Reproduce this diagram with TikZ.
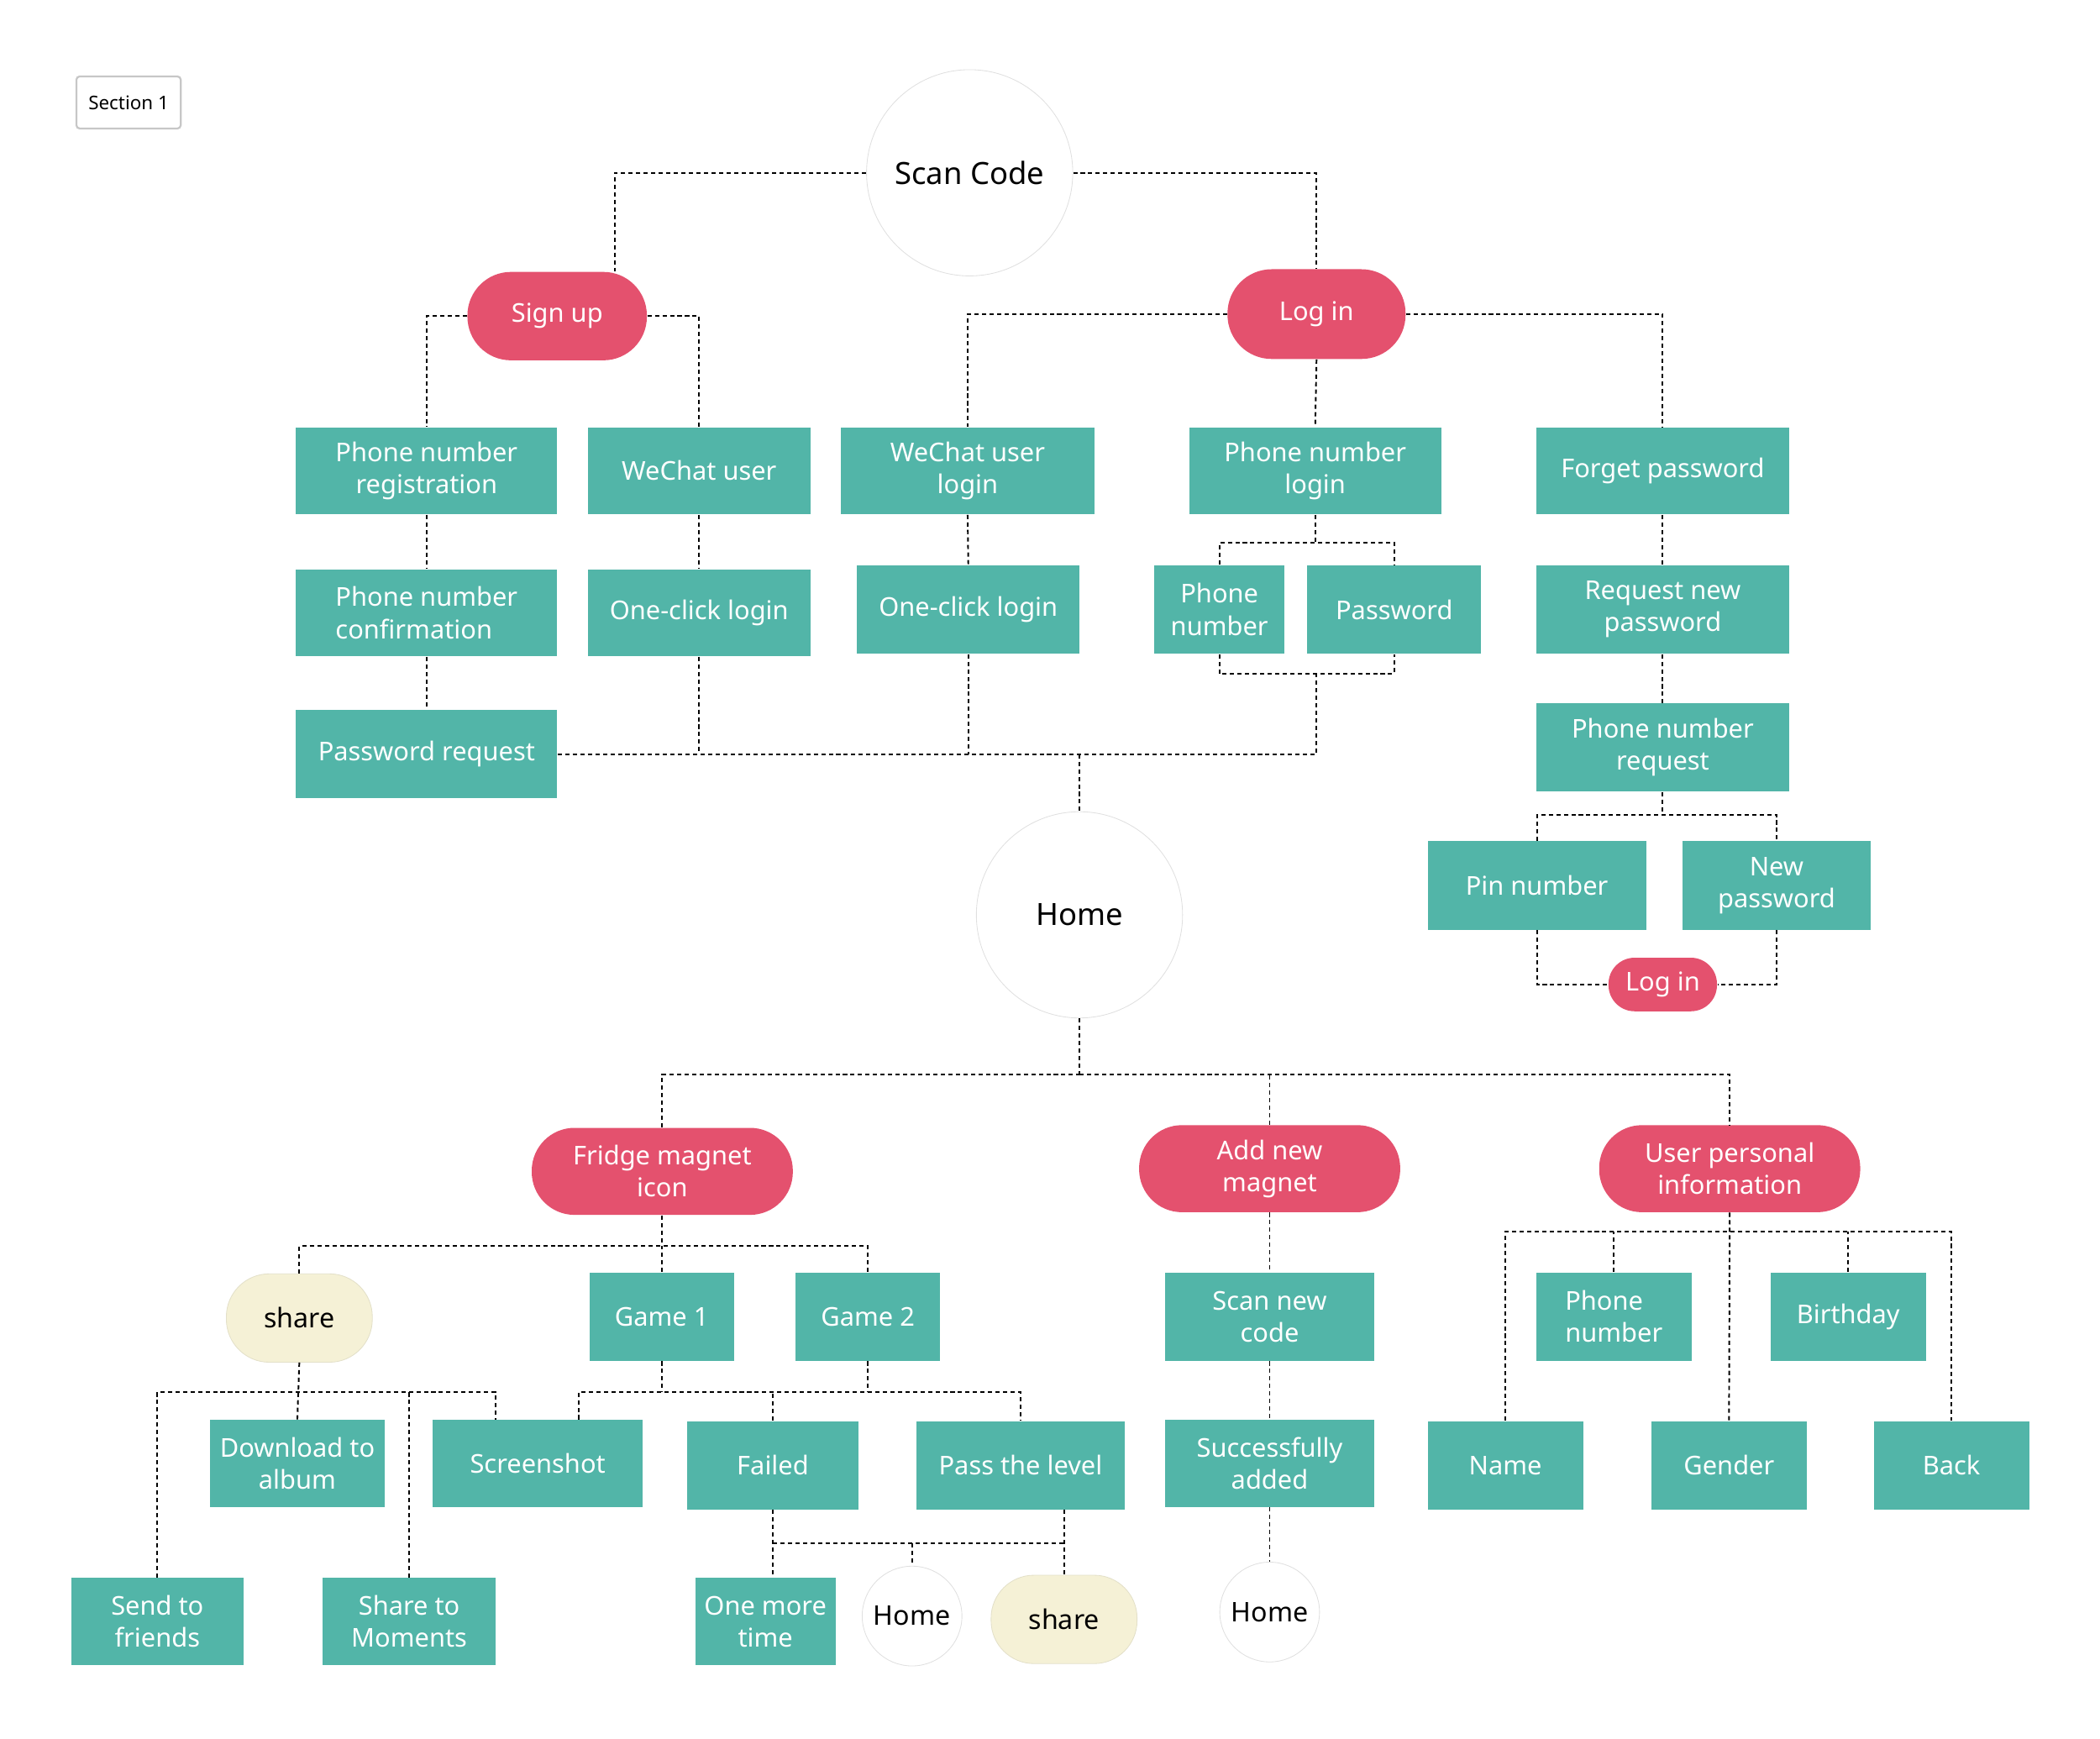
\documentclass[tikz,border=0pt]{standalone}
\usepackage{fontspec}
\setmainfont{Noto Sans}
\usetikzlibrary{positioning}

\definecolor{flowteal}{RGB}{82,181,168}
\definecolor{flowred}{RGB}{228,81,110}
\definecolor{flowcream}{RGB}{245,241,214}

\begin{document}
\begin{tikzpicture}[
        x=0.02cm, y=-0.02cm,
        every node/.style={font=\fontsize{11}{13.6}\selectfont},
        block/.style={rectangle, fill=flowteal, text=white, align=center, inner sep=1pt, minimum height=1.3cm},
        pill/.style={rectangle, fill=flowred, text=white, align=center, inner sep=1pt, rounded corners=0.64cm, minimum height=1.3cm, minimum width=3.9cm},
        bubble/.style={rectangle, fill=flowcream, draw=flowcream!85!gray, line width=0.3pt, rounded corners=0.64cm, minimum width=2.18cm, minimum height=1.32cm, font=\fontsize{11.5}{14}\selectfont},
        page/.style={circle, fill=white, draw=black!12, line width=0.3pt, inner sep=0pt, font=\fontsize{13}{15}\selectfont},
        small page/.style={page, minimum size=1.49cm, font=\fontsize{11.5}{14}\selectfont},
        tagbox/.style={rectangle, draw=black!22, line width=0.8pt, rounded corners=1.5pt, minimum width=1.56cm, minimum height=0.78cm, font=\fontsize{8}{10}\selectfont},
        line/.style={draw, line width=0.7pt, dash pattern=on 1.8pt off 1.4pt}
    ]
        \useasboundingbox (0,0) rectangle (1568,1298.3);

        % Entry
        \node [tagbox] (section) at (96,76.5) {Section 1};
        \node [page, minimum size=3.08cm] (scan) at (724,129) {Scan Code};

        % Sign up branch
        \node [pill, minimum width=2.68cm, minimum height=1.32cm, rounded corners=0.65cm] (signup) at (416,236) {Sign up};
        \node [block, minimum width=3.9cm] (reg) at (318.5,351.5) {Phone number\\registration};
        \node [block, minimum width=3.32cm] (wechat) at (522,351.5) {WeChat user};
        \node [block, minimum width=3.9cm, align=left] (confirm) at (318.5,457.5) {Phone number\\confirmation};
        \node [block, minimum width=3.32cm] (oneclickA) at (522,457.5) {One-click login};
        \node [block, minimum width=3.9cm, minimum height=1.32cm] (pwreq) at (318.5,563) {Password request};

        \path [line] (scan.west) -| ([xshift=0.86cm]signup.north);
        \path [line] (signup.west) -| (reg.north);
        \path [line] (signup.east) -| (wechat.north);
        \path [line] (reg.south) -- (confirm.north);
        \path [line] (confirm.south) -- (pwreq.north);
        \path [line] (wechat.south) -- (oneclickA.north);

        % Log in branch
        \node [pill, minimum width=2.66cm, minimum height=1.34cm, rounded corners=0.66cm] (login) at (983,234.5) {Log in};
        \node [block, minimum width=3.78cm] (wclogin) at (722.5,351.5) {WeChat user\\login};
        \node [block, minimum width=3.76cm] (pnlogin) at (982,351.5) {Phone number\\login};
        \node [block, minimum width=3.78cm] (forget) at (1241.5,351.5) {Forget password};
        \node [block, minimum width=3.32cm, minimum height=1.32cm] (oneclickB) at (723,455) {One-click login};
        \node [block, minimum width=1.94cm, minimum height=1.32cm] (pnum) at (910.5,455) {Phone\\number};
        \node [block, minimum width=2.6cm, minimum height=1.32cm] (pwd) at (1041,455) {Password};
        \node [block, minimum width=3.78cm, minimum height=1.32cm] (reqnew) at (1241.5,455) {Request new\\password};
        \node [block, minimum width=3.78cm, minimum height=1.32cm] (pnreq) at (1241.5,558) {Phone number\\request};
        \node [block, minimum width=3.26cm, minimum height=1.32cm] (pin) at (1147.5,661) {Pin number};
        \node [block, minimum width=2.82cm, minimum height=1.32cm] (newpw) at (1326.5,661) {New\\password};
        \node [pill, minimum width=1.62cm, minimum height=0.8cm, rounded corners=0.39cm] (relogin) at (1241.5,735) {Log in};

        \path [line] (scan.east) -| (login.north);
        \path [line] (login.west) -| (wclogin.north);
        \path [line] (login.south) -- (pnlogin.north);
        \path [line] (login.east) -| (forget.north);
        \path [line] (wclogin.south) -- (oneclickB.north);
        \path [line] (pnlogin.south) -- ++(0,21) coordinate (pnsplit);
        \path [line] (pnum.north) |- (pnsplit) -| (pwd.north);
        \path [line] (pnum.south) |- (983,503) coordinate (pnjoin) -| (pwd.south);
        \path [line] (forget.south) -- (reqnew.north);
        \path [line] (reqnew.south) -- (pnreq.north);
        \path [line] (pnreq.south) -- ++(0,17) coordinate (pnreqsplit);
        \path [line] (pin.north) |- (pnreqsplit) -| (newpw.north);
        \path [line] (pin.south) |- (relogin.west);
        \path [line] (newpw.south) |- (relogin.east);

        % Home
        \node [page, minimum size=3.08cm] (home) at (806,683) {Home};

        \path [line] (pwreq.east) -| (pnjoin);
        \path [line] (oneclickA.south) -- (oneclickA.south |- pwreq.east);
        \path [line] (oneclickB.south) -- (oneclickB.south |- pwreq.east);
        \path [line] (pwreq.east -| home.north) -- (home.north);
        \path [line] (home.south) -- ++(0,42) coordinate (homesplit);

        % Fridge magnet icon
        \node [pill] (fridge) at (494.5,874.5) {Fridge magnet\\icon};
        \node [bubble] (shareA) at (223.5,984) {share};
        \node [block, minimum width=2.16cm, minimum height=1.32cm] (game1) at (494,983) {Game 1};
        \node [block, minimum width=2.16cm, minimum height=1.32cm] (game2) at (648,983) {Game 2};
        \node [block, minimum width=2.6cm] (dl) at (222,1092.5) {Download to\\album};
        \node [block, minimum width=3.14cm] (screenshot) at (401.5,1092.5) {Screenshot};
        \node [block, minimum width=2.56cm, minimum height=1.32cm] (failed) at (577,1094) {Failed};
        \node [block, minimum width=3.12cm, minimum height=1.32cm] (pass) at (762,1094) {Pass the level};
        \node [block, minimum width=2.58cm] (sendf) at (117.5,1210.5) {Send to\\friends};
        \node [block, minimum width=2.58cm] (moments) at (305.5,1210.5) {Share to\\Moments};
        \node [block, minimum width=2.1cm] (onemore) at (571.5,1210.5) {One more\\time};
        \node [small page] (homeB) at (681,1206.5) {Home};
        \node [bubble] (shareB) at (794.5,1209) {share};

        \path [line] (fridge.north) |- (homesplit);
        \path [line] (fridge.south) -- ++(0,23) coordinate (fridgesplit);
        \path [line] (shareA.north) |- (fridgesplit) -| (game2.north);
        \path [line] (game1.north) -- (game1.north |- fridgesplit);
        \path [line] (shareA.south) -- (dl.north);
        \path [line] (shareA.south) ++(0,22) coordinate (sharesplit);
        \path [line] (sendf.north) |- (sharesplit) -| ([xshift=-0.63cm]screenshot.north);
        \path [line] (moments.north) -- (moments.north |- sharesplit);
        \path [line] (game1.south) -- ++(0,23) coordinate (gamesplit);
        \path [line] ([xshift=0.61cm]screenshot.north) |- (gamesplit) -| (pass.north);
        \path [line] (game2.south) -- (game2.south |- gamesplit);
        \path [line] (failed.north) -- (failed.north |- gamesplit);
        \path [line] (failed.south) -- (failed.south |- onemore.north);
        \path [line] (failed.south) ++(0,25) coordinate (failsplit);
        \path [line] (failsplit) -- (failsplit -| shareB.north);
        \path [line] (pass.south -| shareB.north) -- (shareB.north);
        \path [line] (homeB.north |- failsplit) -- (homeB.north);

        % Add new magnet
        \node [pill] (addmag) at (948,872.5) {Add new\\magnet};
        \node [block, minimum width=3.12cm, minimum height=1.32cm] (scannew) at (948,983) {Scan new\\code};
        \node [block, minimum width=3.12cm] (success) at (948,1092.5) {Successfully\\added};
        \node [small page] (homeC) at (948,1203.5) {Home};

        \path [line] (addmag.north) -- (addmag.north |- homesplit);
        \path [line] (addmag.south) -- (scannew.north);
        \path [line] (scannew.south) -- (success.north);
        \path [line] (success.south) -- (homeC.north);

        % User personal information
        \node [pill] (userinfo) at (1291.5,872.5) {User personal\\information};
        \node [block, minimum width=2.32cm, minimum height=1.32cm, align=left] (pnumB) at (1205,983) {Phone\\number};
        \node [block, minimum width=2.32cm, minimum height=1.32cm] (birthday) at (1380,983) {Birthday};
        \node [block, minimum width=2.32cm, minimum height=1.32cm] (name) at (1124,1094) {Name};
        \node [block, minimum width=2.32cm, minimum height=1.32cm] (gender) at (1291,1094) {Gender};
        \node [block, minimum width=2.32cm, minimum height=1.32cm] (back) at (1457,1094) {Back};

        \path [line] (homesplit) -| (userinfo.north);
        \path [line] (userinfo.south) -- (gender.north);
        \path [line] (userinfo.south) ++(0,14) coordinate (infosplit);
        \path [line] (name.north) |- (infosplit) -| (back.north);
        \path [line] (pnumB.north) -- (pnumB.north |- infosplit);
        \path [line] (birthday.north) -- (birthday.north |- infosplit);

    \end{tikzpicture}
\end{document}
